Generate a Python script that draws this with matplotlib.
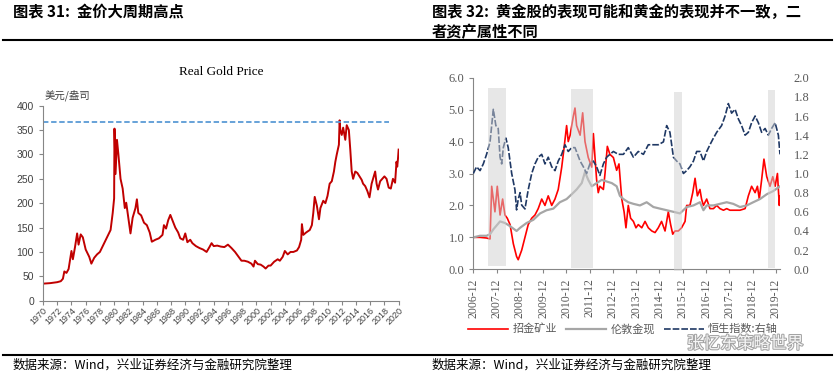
import matplotlib
matplotlib.use("Agg")
import matplotlib.pyplot as plt
import matplotlib.patheffects as pe
from matplotlib.lines import Line2D

plt.rcParams['font.family'] = ['Noto Sans CJK SC', 'DejaVu Sans']

# ---------------- Left chart data: Real Gold Price (USD/oz) ----------------
gold_years = [1970.0, 1971.0, 1972.0, 1972.5, 1972.8, 1973.0, 1973.3, 1973.6, 1974.0, 1974.2,
              1974.5, 1974.8, 1975.0, 1975.3, 1975.6, 1976.0, 1976.5, 1976.8, 1977.2, 1977.6,
              1978.0, 1978.5, 1979.0, 1979.5, 1979.8, 1980.0, 1980.05, 1980.2, 1980.4, 1980.6,
              1980.9, 1981.2, 1981.5, 1981.7, 1981.9, 1982.3, 1982.6, 1983.0, 1983.2, 1983.4,
              1983.8, 1984.2, 1984.6, 1985.0, 1985.3, 1985.8, 1986.3, 1986.8, 1987.0, 1987.3,
              1987.6, 1987.9, 1988.2, 1988.6, 1989.0, 1989.3, 1989.7, 1990.0, 1990.3, 1990.7,
              1991.0, 1991.5, 1992.0, 1992.5, 1993.0, 1993.4, 1993.7, 1994.0, 1994.5, 1995.0,
              1995.5, 1996.0, 1996.5, 1997.0, 1997.5, 1997.9, 1998.3, 1998.8, 1999.3, 1999.6,
              1999.8, 2000.2, 2000.6, 2001.0, 2001.3, 2001.7, 2002.0, 2002.5, 2003.0, 2003.3,
              2003.7, 2004.0, 2004.4, 2004.8, 2005.2, 2005.7, 2006.0, 2006.3, 2006.4, 2006.6,
              2007.0, 2007.5, 2007.8, 2008.0, 2008.2, 2008.5, 2008.8, 2009.0, 2009.4, 2009.7,
              2010.0, 2010.3, 2010.6, 2010.9, 2011.1, 2011.3, 2011.6, 2011.7, 2011.8, 2012.0,
              2012.2, 2012.5, 2012.7, 2013.0, 2013.2, 2013.4, 2013.6, 2013.9, 2014.2, 2014.5,
              2014.8, 2015.0, 2015.3, 2015.6, 2015.9, 2016.2, 2016.5, 2016.7, 2016.9, 2017.1,
              2017.4, 2017.7, 2018.0, 2018.3, 2018.6, 2018.9, 2019.2, 2019.5, 2019.7, 2019.8,
              2019.9, 2020.0]
gold_price = [35, 36, 38, 40, 45, 60, 57, 65, 102, 85,
              110, 138, 115, 136, 130, 105, 90, 76, 88, 95,
              100, 115, 130, 145, 180, 210, 353, 260, 330, 300,
              250, 230, 190, 201, 180, 138, 170, 190, 208, 180,
              175, 160, 155, 140, 121, 125, 128, 135, 155, 148,
              165, 176, 165, 150, 140, 128, 125, 138, 120, 125,
              118, 112, 108, 105, 100, 110, 118, 112, 113, 111,
              110, 115, 108, 100, 90, 82, 82, 80, 76, 70,
              82, 75, 74, 70, 66, 72, 72, 80, 85, 82,
              90, 102, 95, 100, 100, 103, 110, 125, 157, 135,
              140, 145, 155, 180, 213, 195, 167, 190, 205, 200,
              215, 240, 245, 265, 285, 300, 320, 370, 350, 340,
              355, 330, 360, 350, 310, 265, 250, 265, 262, 255,
              248, 240, 235, 225, 212, 240, 255, 265, 240, 228,
              245, 250, 255, 250, 232, 230, 250, 242, 285, 275,
              290, 310]
gold_peak_level = 367
gold_peak_span = [1970.0, 2018.6]
gold_ticks = list(range(1970, 2021, 2))
gold_yticks = [0, 50, 100, 150, 200, 250, 300, 350, 400]

# ---------------- Right chart data (x = years since 2006-12) ----------------
miner_t = [0, 0.29, 0.57, 0.72, 0.79, 0.93, 1.03, 1.15, 1.26, 1.36,
           1.46, 1.58, 1.72, 1.86, 1.93, 2.08, 2.22, 2.36, 2.51, 2.65,
           2.79, 2.94, 3.08, 3.22, 3.37, 3.51, 3.65, 3.80, 3.90, 4.01,
           4.08, 4.16, 4.30, 4.37, 4.44, 4.59, 4.70, 4.80, 4.94, 5.09,
           5.16, 5.23, 5.30, 5.37, 5.44, 5.59, 5.66, 5.76, 5.87, 6.02,
           6.16, 6.26, 6.38, 6.48, 6.56, 6.66, 6.76, 6.88, 6.99, 7.09,
           7.24, 7.38, 7.52, 7.67, 7.81, 7.95, 8.09, 8.24, 8.38, 8.48,
           8.57, 8.67, 8.81, 8.95, 9.10, 9.17, 9.31, 9.43, 9.53, 9.63,
           9.74, 9.81, 9.89, 10.03, 10.17, 10.32, 10.46, 10.60, 10.75, 10.89,
           11.03, 11.25, 11.46, 11.68, 11.82, 11.96, 12.11, 12.21, 12.29, 12.39,
           12.49, 12.61, 12.75, 12.87, 12.97, 13.07, 13.15, 13.18]
miner_v = [1.0, 1.0, 0.98, 0.95, 2.6, 1.8, 2.6, 1.7, 2.2, 1.7,
           1.6, 1.4, 0.8, 0.4, 0.3, 0.6, 1.0, 1.4, 1.6, 1.7,
           1.9, 2.2, 2.0, 2.3, 2.0, 2.2, 2.5, 3.2, 3.8, 4.5,
           4.0, 4.2, 4.8, 5.05, 4.5, 4.2, 4.9, 4.0, 3.5, 3.2,
           4.25, 3.5, 2.8, 2.4, 2.6, 2.5, 3.0, 3.85, 3.6, 3.5,
           3.1, 3.3, 2.2, 1.8, 1.3, 2.0, 1.6, 1.5, 1.3, 1.4,
           1.3, 1.5, 1.3, 1.2, 1.15, 1.3, 1.5, 1.2, 1.8, 1.4,
           1.1, 1.2, 1.2, 1.3, 1.5, 2.0, 2.0, 2.4, 2.85, 2.3,
           2.5, 2.2, 2.0, 2.2, 1.9, 1.9, 2.0, 1.9, 1.85, 1.9,
           1.85, 1.85, 1.85, 1.9, 2.3, 2.6, 2.4, 2.6, 2.2, 2.8,
           3.45, 2.9, 2.6, 2.9, 2.6, 3.0, 2.0, 2.3]

london_t = [0, 0.29, 0.57, 0.72, 0.86, 1.15, 1.36, 1.58, 1.86, 2.01,
            2.29, 2.58, 2.87, 3.15, 3.44, 3.72, 4.01, 4.23, 4.44, 4.66,
            4.80, 4.94, 5.09, 5.30, 5.52, 5.73, 5.95, 6.16, 6.30, 6.45,
            6.66, 6.88, 7.16, 7.45, 7.74, 8.02, 8.31, 8.60, 8.88, 9.17,
            9.46, 9.74, 9.89, 10.03, 10.32, 10.60, 10.89, 11.17, 11.46, 11.75,
            12.03, 12.32, 12.61, 12.89, 13.18]
london_v = [1.0, 1.05, 1.05, 1.1, 1.25, 1.5, 1.45, 1.35, 1.2, 1.3,
            1.45, 1.55, 1.75, 1.85, 1.9, 2.1, 2.2, 2.35, 2.5, 2.7,
            3.05, 2.8, 2.6, 2.7, 2.8, 2.75, 2.7, 2.6, 2.3, 2.2,
            2.1, 2.05, 2.0, 2.1, 1.95, 1.9, 1.85, 1.8, 1.75, 1.95,
            2.0, 2.1, 1.85, 2.0, 2.0, 2.05, 2.1, 2.05, 1.95, 2.0,
            2.1, 2.2, 2.35, 2.45, 2.6]

hsi_t = [0, 0.14, 0.29, 0.43, 0.57, 0.72, 0.86, 0.97, 1.07, 1.15,
         1.22, 1.29, 1.40, 1.50, 1.65, 1.79, 1.86, 1.93, 2.01, 2.08,
         2.22, 2.36, 2.51, 2.65, 2.79, 2.94, 3.08, 3.22, 3.37, 3.51,
         3.65, 3.80, 3.94, 4.08, 4.23, 4.37, 4.59, 4.73, 4.87, 5.01,
         5.16, 5.30, 5.44, 5.59, 5.73, 5.87, 6.02, 6.23, 6.45, 6.66,
         6.88, 7.09, 7.31, 7.52, 7.74, 7.95, 8.17, 8.31, 8.45, 8.60,
         8.74, 8.88, 9.03, 9.17, 9.31, 9.46, 9.60, 9.74, 9.89, 10.03,
         10.17, 10.32, 10.46, 10.67, 10.82, 10.96, 11.10, 11.25, 11.39, 11.53,
         11.68, 11.82, 11.96, 12.11, 12.25, 12.39, 12.54, 12.68, 12.82, 12.97,
         13.11, 13.18]
hsi_v = [1.00, 1.07, 1.03, 1.10, 1.20, 1.33, 1.67, 1.50, 1.47, 1.17,
         1.10, 1.27, 1.37, 1.27, 1.00, 0.83, 0.62, 0.73, 0.80, 0.67,
         0.63, 0.83, 1.00, 1.10, 1.17, 1.20, 1.10, 1.17, 1.07, 1.03,
         1.13, 1.20, 1.30, 1.23, 1.27, 1.27, 1.13, 1.07, 1.00, 1.10,
         1.13, 1.07, 0.98, 1.10, 1.17, 1.20, 1.23, 1.20, 1.20, 1.27,
         1.17, 1.23, 1.20, 1.30, 1.30, 1.30, 1.33, 1.50, 1.43, 1.17,
         1.13, 1.10, 1.00, 1.03, 1.07, 1.13, 1.23, 1.23, 1.13, 1.23,
         1.30, 1.37, 1.43, 1.50, 1.60, 1.73, 1.63, 1.67, 1.57, 1.50,
         1.40, 1.43, 1.53, 1.60, 1.53, 1.43, 1.47, 1.40, 1.47, 1.53,
         1.40, 1.20]

shade_start = [0.645, 4.20, 8.64, 12.68]
shade_end = [1.40, 5.13, 8.97, 12.97]
shade_bottom = [0.115, 0.05, -0.04, 0.05]
shade_top = [5.68, 5.65, 5.55, 5.63]

right_xticks = list(range(0, 14))
right_xlabels = [f"{2006 + i}-12" for i in right_xticks]
left_yticks = [0.0, 1.0, 2.0, 3.0, 4.0, 5.0, 6.0]
right_yticks = [0.0, 0.2, 0.4, 0.6, 0.8, 1.0, 1.2, 1.4, 1.6, 1.8, 2.0]

series_names = ["招金矿业", "伦敦金现", "恒生指数:右轴"]

# ---------------- Figure ----------------
W, H = 834, 375
fig = plt.figure(figsize=(W / 100, H / 100), dpi=100)

def fx(px):
    return px / W

def fy(py):
    return 1 - py / H

title_font = dict(family=['Noto Sans CJK SC', 'DejaVu Sans'], fontsize=11, fontweight='bold', color='black')
fig.text(fx(13), fy(12), "图表 31:  金价大周期高点", ha='left', va='center', **title_font)
fig.text(fx(432), fy(12), "图表 32:  黄金股的表现可能和黄金的表现并不一致，二", ha='left', va='center', **title_font)
fig.text(fx(432), fy(32), "者资产属性不同", ha='left', va='center', **title_font)

fig.add_artist(Line2D([fx(3), fx(832)], [fy(40), fy(40)], color='black', lw=1.5))
fig.add_artist(Line2D([fx(3), fx(832)], [fy(355), fy(355)], color='black', lw=1.5))

foot_font = dict(family=['Noto Sans CJK SC', 'DejaVu Sans'], fontsize=9, color='black')
fig.text(fx(13), fy(365), "数据来源：Wind，兴业证券经济与金融研究院整理", ha='left', va='center', **foot_font)
fig.text(fx(432), fy(365), "数据来源：Wind，兴业证券经济与金融研究院整理", ha='left', va='center', **foot_font)

# ---------------- Left chart ----------------
axL = fig.add_axes([fx(43), fy(300.7), fx(399 - 43), (300.7 - 105.7) / H])
axL.plot(gold_years, gold_price, color='#C00000', lw=1.4, solid_joinstyle='round')
axL.hlines(gold_peak_level, gold_peak_span[0], gold_peak_span[1], colors='#5B9BD5',
           linestyles=(0, (3, 1.5)), lw=1.3)
axL.set_xlim(1970, 2020.05)
axL.set_ylim(0, 400)
axL.set_yticks(gold_yticks)
axL.set_xticks(gold_ticks)
axL.set_xticklabels([str(y) for y in gold_ticks], rotation=45, ha='right', va='top',
                    rotation_mode='anchor', fontsize=6.5, family='Liberation Sans', color='#404040')
axL.set_yticklabels([str(v) for v in gold_yticks], fontsize=7.5, family='Liberation Sans', color='#404040')
for s in ['top', 'right']:
    axL.spines[s].set_visible(False)
for s in ['left', 'bottom']:
    axL.spines[s].set_color('#868686')
    axL.spines[s].set_linewidth(0.8)
axL.tick_params(axis='both', colors='#868686', length=3, width=0.8, labelcolor='#404040')
axL.tick_params(axis='x', pad=1)
axL.set_title("Real Gold Price", fontsize=9.5, family='Liberation Serif', color='black', pad=22)
axL.text(fx(45), fy(95), "美元/盎司", transform=fig.transFigure, fontsize=7.5, color='#404040',
         ha='left', va='center')

# ---------------- Right chart ----------------
axR = fig.add_axes([fx(473.3), fy(269.3), fx(780 - 473.3), (269.3 - 77.7) / H])
l1, = axR.plot(miner_t, miner_v, color='#FF0000', lw=1.2)
l2, = axR.plot(london_t, london_v, color='#A6A6A6', lw=1.6)
axR.set_xlim(0, 13.18)
axR.set_ylim(0, 6)
axR.set_yticks(left_yticks)
axR.set_yticklabels([f"{v:.1f}" for v in left_yticks], fontsize=9, family='Liberation Serif', color='#595959')
axR.set_xticks(right_xticks)
axR.set_xticklabels(right_xlabels, rotation=90, fontsize=8.5, family='Liberation Serif', color='#595959')
for s in ['top', 'right']:
    axR.spines[s].set_visible(False)
for s in ['left', 'bottom']:
    axR.spines[s].set_color('#868686')
    axR.spines[s].set_linewidth(0.8)
axR.tick_params(axis='both', colors='#868686', length=3, width=0.8, labelcolor='#595959')

ax2 = axR.twinx()
l3, = ax2.plot(hsi_t, hsi_v, color='#1F3864', lw=1.2, linestyle=(0, (4, 1.2)))
ax2.set_ylim(0, 2.0)
ax2.set_yticks(right_yticks)
ax2.set_yticklabels([f"{v:.1f}" for v in right_yticks], fontsize=9, family='Liberation Serif', color='#595959')
ax2.tick_params(axis='y', length=0, pad=10, labelcolor='#595959')
for s in ['top', 'right', 'left', 'bottom']:
    ax2.spines[s].set_visible(False)

# shaded periods drawn on top (semi-transparent)
for x0, x1, b, t in zip(shade_start, shade_end, shade_bottom, shade_top):
    ax2.bar(x0, (t - b) / 3.0, width=x1 - x0, bottom=b / 3.0, align='edge',
            color='#D1D1D1', alpha=0.5, linewidth=0, zorder=5, clip_on=False)

leg = fig.legend([l1, l2, l3], series_names, loc='center left', bbox_to_anchor=(fx(468), fy(329)),
                 ncol=3, frameon=False, fontsize=8, handlelength=3.6, columnspacing=0.8,
                 handletextpad=0.4, borderaxespad=0, borderpad=0)
for t in leg.get_texts():
    t.set_color('#595959')

# watermark (moved slightly below the legend)
fig.text(fx(745), fy(344), "张忆东策略世界", fontsize=12, color='white', ha='center', va='center',
         alpha=0.9, path_effects=[pe.withStroke(linewidth=1.5, foreground='#9a9a9a')])

fig.savefig("out.png", dpi=100)
